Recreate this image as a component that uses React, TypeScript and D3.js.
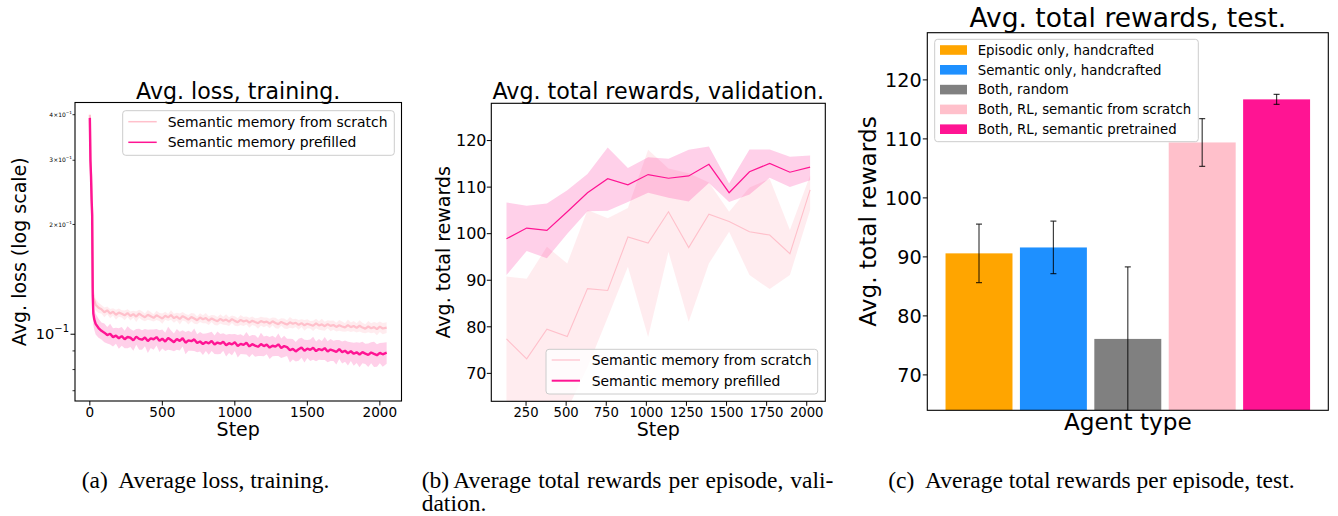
import React from 'react';
import * as d3 from 'd3';

const SANS = '"DejaVu Sans", Verdana, sans-serif';
const SERIF = '"Liberation Serif", "Times New Roman", serif';

const PINK = '#FFC0CB';
const DEEPPINK = '#FF1493';

// ---------- (a) training loss ----------
const lossSteps = [
  0, 4, 8, 12, 16, 20, 24, 30,
  40, 60, 80, 100, 120, 140, 160, 180, 200, 220,
  240, 260, 280, 300, 320, 340, 360, 380, 400, 420,
  440, 460, 480, 500, 520, 540, 560, 580, 600, 620,
  640, 660, 680, 700, 720, 740, 760, 780, 800, 820,
  840, 860, 880, 900, 920, 940, 960, 980, 1000, 1020,
  1040, 1060, 1080, 1100, 1120, 1140, 1160, 1180, 1200, 1220,
  1240, 1260, 1280, 1300, 1320, 1340, 1360, 1380, 1400, 1420,
  1440, 1460, 1480, 1500, 1520, 1540, 1560, 1580, 1600, 1620,
  1640, 1660, 1680, 1700, 1720, 1740, 1760, 1780, 1800, 1820,
  1840, 1860, 1880, 1900, 1920, 1940, 1960, 1980, 2000, 2020,
  2047,
];

const lossScratch = [
  0.400, 0.305, 0.275, 0.240, 0.215, 0.135, 0.126, 0.124,
  0.1205, 0.1182, 0.1171, 0.1149, 0.1163, 0.1140, 0.1152, 0.1131, 0.1146, 0.1138,
  0.1127, 0.1143, 0.1122, 0.1135, 0.1118, 0.1139, 0.1125, 0.1113, 0.1131, 0.1120,
  0.1109, 0.1127, 0.1116, 0.1104, 0.1124, 0.1112, 0.1129, 0.1107, 0.1118, 0.1101,
  0.1121, 0.1110, 0.1097, 0.1115, 0.1104, 0.1092, 0.1111, 0.1099, 0.1108, 0.1090,
  0.1105, 0.1094, 0.1086, 0.1102, 0.1089, 0.1097, 0.1083, 0.1100, 0.1088, 0.1079,
  0.1095, 0.1084, 0.1091, 0.1076, 0.1089, 0.1080, 0.1072, 0.1087, 0.1078, 0.1083,
  0.1070, 0.1085, 0.1074, 0.1066, 0.1081, 0.1071, 0.1063, 0.1078, 0.1068, 0.1075,
  0.1061, 0.1073, 0.1058, 0.1069, 0.1062, 0.1055, 0.1071, 0.1057, 0.1064, 0.1052,
  0.1066, 0.1054, 0.1060, 0.1047, 0.1058, 0.1050, 0.1044, 0.1059, 0.1046, 0.1053,
  0.1041, 0.1055, 0.1043, 0.1036, 0.1050, 0.1039, 0.1046, 0.1033, 0.1049, 0.1037,
  0.1043,
];

const lossScratchStd = [
  0.012, 0.025, 0.020, 0.018, 0.015, 0.010, 0.006, 0.005,
  0.0045, 0.0038, 0.0031, 0.0035, 0.0029, 0.0033, 0.0027, 0.0036, 0.0030, 0.0026,
  0.0034, 0.0028, 0.0032, 0.0025, 0.0037, 0.0029, 0.0031, 0.0027, 0.0035, 0.0030,
  0.0026, 0.0033, 0.0028, 0.0036, 0.0029, 0.0025, 0.0034, 0.0031, 0.0027, 0.0038,
  0.0030, 0.0026, 0.0033, 0.0029, 0.0035, 0.0027, 0.0031, 0.0028, 0.0036, 0.0030,
  0.0025, 0.0034, 0.0029, 0.0032, 0.0027, 0.0037, 0.0030, 0.0026, 0.0033, 0.0028,
  0.0035, 0.0031, 0.0027, 0.0034, 0.0029, 0.0026, 0.0036, 0.0030, 0.0033, 0.0028,
  0.0032, 0.0027, 0.0035, 0.0030, 0.0026, 0.0034, 0.0029, 0.0037, 0.0031, 0.0028,
  0.0033, 0.0027, 0.0036, 0.0030, 0.0025, 0.0034, 0.0032, 0.0028, 0.0038, 0.0030,
  0.0027, 0.0035, 0.0031, 0.0029, 0.0036, 0.0033, 0.0028, 0.0039, 0.0031, 0.0034,
  0.0030, 0.0037, 0.0033, 0.0029, 0.0038, 0.0032, 0.0035, 0.0040, 0.0034, 0.0037,
  0.0035,
];

const lossPrefilled = [
  0.392, 0.300, 0.272, 0.235, 0.212, 0.128, 0.114, 0.110,
  0.1068, 0.1040, 0.1022, 0.1010, 0.0995, 0.1003, 0.0982, 0.0991, 0.0975, 0.0988,
  0.0969, 0.0983, 0.0978, 0.0962, 0.0985, 0.0971, 0.0966, 0.0980, 0.0958, 0.0974,
  0.0969, 0.0982, 0.0960, 0.0972, 0.0955, 0.0977, 0.0964, 0.0951, 0.0970, 0.0959,
  0.0975, 0.0948, 0.0962, 0.0957, 0.0968, 0.0946, 0.0955, 0.0940, 0.0952, 0.0944,
  0.0958, 0.0937, 0.0949, 0.0942, 0.0954, 0.0933, 0.0945, 0.0938, 0.0950, 0.0929,
  0.0941, 0.0935, 0.0947, 0.0926, 0.0939, 0.0931, 0.0924, 0.0940, 0.0928, 0.0936,
  0.0919, 0.0930, 0.0925, 0.0938, 0.0917, 0.0928, 0.0922, 0.0904, 0.0912, 0.0897,
  0.0909, 0.0920, 0.0901, 0.0913, 0.0906, 0.0918, 0.0899, 0.0911, 0.0904, 0.0916,
  0.0897, 0.0908, 0.0902, 0.0895, 0.0910, 0.0893, 0.0901, 0.0887, 0.0898, 0.0884,
  0.0892, 0.0880, 0.0893, 0.0885, 0.0878, 0.0891, 0.0883, 0.0876, 0.0889, 0.0881,
  0.0890,
];

const lossPrefilledStd = [
  0.010, 0.022, 0.018, 0.016, 0.014, 0.010, 0.008, 0.007,
  0.0070, 0.0062, 0.0055, 0.0060, 0.0052, 0.0066, 0.0057, 0.0050, 0.0063, 0.0058,
  0.0054, 0.0068, 0.0056, 0.0061, 0.0049, 0.0064, 0.0059, 0.0053, 0.0070, 0.0057,
  0.0062, 0.0051, 0.0066, 0.0058, 0.0055, 0.0071, 0.0060, 0.0053, 0.0064, 0.0057,
  0.0050, 0.0067, 0.0061, 0.0056, 0.0069, 0.0054, 0.0059, 0.0063, 0.0052, 0.0065,
  0.0058, 0.0055, 0.0068, 0.0060, 0.0053, 0.0064, 0.0057, 0.0062, 0.0051, 0.0066,
  0.0059, 0.0054, 0.0067, 0.0061, 0.0056, 0.0063, 0.0052, 0.0069, 0.0058, 0.0055,
  0.0064, 0.0060, 0.0053, 0.0066, 0.0057, 0.0062, 0.0050, 0.0068, 0.0059, 0.0055,
  0.0063, 0.0058, 0.0065, 0.0052, 0.0061, 0.0067, 0.0056, 0.0060, 0.0054, 0.0066,
  0.0059, 0.0063, 0.0057, 0.0069, 0.0055, 0.0062, 0.0060, 0.0066, 0.0053, 0.0064,
  0.0058, 0.0068, 0.0061, 0.0056, 0.0065, 0.0059, 0.0070, 0.0062, 0.0057, 0.0066,
  0.0060,
];

const lossXTicks = [0, 500, 1000, 1500, 2000];
const lossYDomain = [0.0656, 0.432];
const lossYMinorLabeled = [0.2, 0.3, 0.4];
const lossYMinorLabels = ['2', '3', '4'];
const lossYMinor = [0.07, 0.08, 0.09];

// ---------- (b) validation rewards ----------
const valSteps = [128, 254, 380, 507, 633, 759, 885, 1011, 1138, 1264, 1390, 1516, 1643, 1769, 1895, 2021];
const valScratchMean = [77.4, 73.1, 79.5, 77.9, 88.2, 87.8, 99.3, 98.0, 104.7, 97.0, 104.2, 102.6, 100.4, 99.7, 95.7, 109.4];
const valScratchHigh = [90.8, 90.3, 97.2, 93.6, 105.1, 103.3, 105.5, 118.0, 114.0, 113.0, 111.0, 104.7, 109.9, 111.8, 100.8, 112.5];
const valScratchLow = [64.0, 55.8, 61.8, 62.2, 71.3, 82.0, 92.9, 77.8, 96.1, 81.1, 93.6, 100.4, 91.1, 88.1, 91.1, 105.1];
const valPrefMean = [98.9, 101.2, 100.7, 104.7, 108.8, 111.8, 110.5, 112.7, 111.9, 112.4, 114.9, 108.8, 113.3, 115.1, 113.2, 114.3];
const valPrefHigh = [106.7, 106.0, 106.5, 109.3, 112.8, 118.5, 114.1, 116.4, 116.1, 118.0, 118.7, 110.8, 118.1, 118.1, 116.5, 116.8];
const valPrefLow = [91.1, 96.3, 94.7, 100.0, 104.8, 104.9, 106.8, 108.8, 107.7, 106.9, 110.9, 106.8, 108.4, 112.0, 110.0, 111.5];
const valXTicks = [250, 500, 750, 1000, 1250, 1500, 1750, 2000];

// ---------- (c) test rewards ----------
const agentTypes = [
  'Episodic only, handcrafted',
  'Semantic only, handcrafted',
  'Both, random',
  'Both, RL, semantic from scratch',
  'Both, RL, semantic pretrained',
];
const agentMeans = [90.6, 91.6, 76.1, 109.4, 116.7];
const agentErrs = [4.95, 4.45, 12.2, 4.05, 0.85];
const agentColors = ['#FFA500', '#1E90FF', '#808080', '#FFC0CB', '#FF1493'];

const rewardYDomain = [64, 128];
const rewardYTicks = [70, 80, 90, 100, 110, 120];

function padded(ext: number[], frac = 0.05) {
  const span = ext[1] - ext[0];
  return [ext[0] - span * frac, ext[1] + span * frac];
}

function Frame({ box }: any) {
  return (
    <rect x={box.l} y={box.t} width={box.r - box.l} height={box.b - box.t}
      fill="none" stroke="#000" strokeWidth={1.1} />
  );
}

function LegendBox({ x, y, w, h }: any) {
  return (
    <rect x={x} y={y} width={w} height={h} rx={3} ry={3}
      fill="#fff" fillOpacity={0.8} stroke="#cccccc" strokeWidth={1} />
  );
}

function LossPanel() {
  const box = { l: 75, r: 401.5, t: 102.5, b: 401 };
  const x = d3.scaleLinear().domain(padded(d3.extent(lossSteps) as number[])).range([box.l, box.r]);
  const y = d3.scaleLog().domain(lossYDomain).range([box.b, box.t]);

  const mk = (vals: number[], std: number[]) => lossSteps.map((s, i) => ({ s, v: vals[i], e: std[i] })).filter(d => d.v != null && d.e != null);
  const scr = mk(lossScratch, lossScratchStd);
  const pre = mk(lossPrefilled, lossPrefilledStd);

  const line = d3.line<any>().x(d => x(d.s)).y(d => y(d.v));
  const area = d3.area<any>().x(d => x(d.s)).y0(d => y(Math.max(d.v - d.e, 1e-3))).y1(d => y(d.v + d.e));

  return (
    <g>
      <defs>
        <clipPath id="clipA"><rect x={box.l} y={box.t} width={box.r - box.l} height={box.b - box.t} /></clipPath>
      </defs>
      <text x={(box.l + box.r) / 2} y={98.5} textAnchor="middle" fontFamily={SANS} fontSize={22.1}>Avg. loss, training.</text>
      <g clipPath="url(#clipA)">
        <path d={area(scr) || ''} fill={PINK} fillOpacity={0.3} />
        <path d={line(scr) || ''} fill="none" stroke={PINK} strokeWidth={2.2} strokeLinejoin="bevel" />
        <path d={area(pre) || ''} fill={DEEPPINK} fillOpacity={0.2} />
        <path d={line(pre) || ''} fill="none" stroke={DEEPPINK} strokeWidth={2.4} strokeLinejoin="bevel" />
      </g>
      <Frame box={box} />
      {lossXTicks.map(t => (
        <g key={t}>
          <line x1={x(t)} x2={x(t)} y1={box.b} y2={box.b + 4.5} stroke="#000" strokeWidth={1} />
          <text x={x(t)} y={416.7} textAnchor="middle" fontFamily={SANS} fontSize={13.6}>{t}</text>
        </g>
      ))}
      <text x={(box.l + box.r) / 2} y={435.7} textAnchor="middle" fontFamily={SANS} fontSize={19}>Step</text>
      {/* major y tick */}
      <line x1={box.l - 4.5} x2={box.l} y1={y(0.1)} y2={y(0.1)} stroke="#000" strokeWidth={1} />
      <text x={69} y={y(0.1)} dy="0.36em" textAnchor="end" fontFamily={SANS} fontSize={14.5}>
        10<tspan fontSize={10} dy="-0.75em">−1</tspan>
      </text>
      {lossYMinor.concat(lossYMinorLabeled).map(t => (
        <line key={t} x1={box.l - 2.5} x2={box.l} y1={y(t)} y2={y(t)} stroke="#000" strokeWidth={0.8} />
      ))}
      {lossYMinorLabeled.map((t, i) => (
        <text key={t} x={72} y={y(t)} dy="0.36em" textAnchor="end" fontFamily={SANS} fontSize={6}>
          {lossYMinorLabels[i]}×10<tspan fontSize={4.2} dy="-0.7em">−1</tspan>
        </text>
      ))}
      <text transform={`translate(25.5,${(box.t + box.b) / 2}) rotate(-90)`} textAnchor="middle" fontFamily={SANS} fontSize={19}>Avg. loss (log scale)</text>
      {/* legend */}
      <LegendBox x={122.7} y={110.7} w={271.6} h={44.6} />
      <line x1={128.3} x2={156.7} y1={121.7} y2={121.7} stroke={PINK} strokeWidth={1.5} />
      <text x={167.7} y={121.7} dy="0.36em" fontFamily={SANS} fontSize={13.9}>Semantic memory from scratch</text>
      <line x1={128.3} x2={156.7} y1={142.3} y2={142.3} stroke={DEEPPINK} strokeWidth={1.5} />
      <text x={167.7} y={142.3} dy="0.36em" fontFamily={SANS} fontSize={13.9}>Semantic memory prefilled</text>
    </g>
  );
}

function ValPanel() {
  const box = { l: 491.3, r: 825.3, t: 103.3, b: 401.3 };
  const x = d3.scaleLinear().domain(padded(d3.extent(valSteps) as number[])).range([box.l, box.r]);
  const y = d3.scaleLinear().domain(rewardYDomain).range([box.b, box.t]);

  const scr = valSteps.map((s, i) => ({ s, m: valScratchMean[i], lo: valScratchLow[i], hi: valScratchHigh[i] }));
  const pre = valSteps.map((s, i) => ({ s, m: valPrefMean[i], lo: valPrefLow[i], hi: valPrefHigh[i] }));
  const line = d3.line<any>().x(d => x(d.s)).y(d => y(d.m));
  const area = d3.area<any>().x(d => x(d.s)).y0(d => y(d.lo)).y1(d => y(d.hi));

  return (
    <g>
      <defs>
        <clipPath id="clipB"><rect x={box.l} y={box.t} width={box.r - box.l} height={box.b - box.t} /></clipPath>
      </defs>
      <text x={(box.l + box.r) / 2} y={98.5} textAnchor="middle" fontFamily={SANS} fontSize={22.2}>Avg. total rewards, validation.</text>
      <g clipPath="url(#clipB)">
        <path d={area(scr) || ''} fill={PINK} fillOpacity={0.3} />
        <path d={line(scr) || ''} fill="none" stroke={PINK} strokeWidth={1.1} />
        <path d={area(pre) || ''} fill={DEEPPINK} fillOpacity={0.2} />
        <path d={line(pre) || ''} fill="none" stroke={DEEPPINK} strokeWidth={1.2} />
      </g>
      <Frame box={box} />
      {valXTicks.map(t => (
        <g key={t}>
          <line x1={x(t)} x2={x(t)} y1={box.b} y2={box.b + 4.5} stroke="#000" strokeWidth={1} />
          <text x={x(t)} y={416.7} textAnchor="middle" fontFamily={SANS} fontSize={13.2}>{t}</text>
        </g>
      ))}
      <text x={(box.l + box.r) / 2} y={435.7} textAnchor="middle" fontFamily={SANS} fontSize={19}>Step</text>
      {rewardYTicks.map(t => (
        <g key={t}>
          <line x1={box.l - 4.5} x2={box.l} y1={y(t)} y2={y(t)} stroke="#000" strokeWidth={1} />
          <text x={486.5} y={y(t)} dy="0.36em" textAnchor="end" fontFamily={SANS} fontSize={16}>{t}</text>
        </g>
      ))}
      <text transform={`translate(450,${(box.t + box.b) / 2}) rotate(-90)`} textAnchor="middle" fontFamily={SANS} fontSize={19}>Avg. total rewards</text>
      <LegendBox x={546} y={349.3} w={271.7} h={44.7} />
      <line x1={551.7} x2={580} y1={360} y2={360} stroke={PINK} strokeWidth={1.2} />
      <text x={591.7} y={360} dy="0.36em" fontFamily={SANS} fontSize={13.9}>Semantic memory from scratch</text>
      <line x1={551.7} x2={580} y1={380.7} y2={380.7} stroke={DEEPPINK} strokeWidth={2} />
      <text x={591.7} y={380.7} dy="0.36em" fontFamily={SANS} fontSize={13.9}>Semantic memory prefilled</text>
    </g>
  );
}

function TestPanel() {
  const box = { l: 927.3, r: 1328.3, t: 32.7, b: 410.3 };
  const barWidth = 0.9;
  const idx = agentTypes.map((_, i) => i);
  const x = d3.scaleLinear().domain(padded([-barWidth / 2, agentTypes.length - 1 + barWidth / 2])).range([box.l, box.r]);
  const y = d3.scaleLinear().domain(rewardYDomain).range([box.b, box.t]);
  const legendY = [50, 69.8, 89.6, 109.4, 129.2];

  return (
    <g>
      <defs>
        <clipPath id="clipC"><rect x={box.l} y={box.t} width={box.r - box.l} height={box.b - box.t} /></clipPath>
      </defs>
      <text x={(box.l + box.r) / 2} y={26.7} textAnchor="middle" fontFamily={SANS} fontSize={26.5}>Avg. total rewards, test.</text>
      <g clipPath="url(#clipC)">
        {idx.map(i => (
          <rect key={i} x={x(i - barWidth / 2)} width={x(i + barWidth / 2) - x(i - barWidth / 2)}
            y={y(agentMeans[i])} height={y(rewardYDomain[0]) - y(agentMeans[i])} fill={agentColors[i]} />
        ))}
        {idx.map(i => {
          const cx = x(i);
          const y1 = y(agentMeans[i] + agentErrs[i]);
          const y2 = y(agentMeans[i] - agentErrs[i]);
          return (
            <g key={i} stroke="#000" strokeOpacity={0.75} strokeWidth={1.2}>
              <line x1={cx} x2={cx} y1={y1} y2={y2} />
              <line x1={cx - 3} x2={cx + 3} y1={y1} y2={y1} />
              <line x1={cx - 3} x2={cx + 3} y1={y2} y2={y2} />
            </g>
          );
        })}
      </g>
      <Frame box={box} />
      {rewardYTicks.map(t => (
        <g key={t}>
          <line x1={box.l - 4.5} x2={box.l} y1={y(t)} y2={y(t)} stroke="#000" strokeWidth={1} />
          <text x={921.7} y={y(t)} dy="0.36em" textAnchor="end" fontFamily={SANS} fontSize={19.2}>{t}</text>
        </g>
      ))}
      <text x={(box.l + box.r) / 2} y={430} textAnchor="middle" fontFamily={SANS} fontSize={23.2}>Agent type</text>
      <text transform={`translate(876,${(box.t + box.b) / 2}) rotate(-90)`} textAnchor="middle" fontFamily={SANS} fontSize={23.2}>Avg. total rewards</text>
      <LegendBox x={934.7} y={39.3} w={263.6} h={102.4} />
      {agentTypes.map((a, i) => (
        <g key={a}>
          <rect x={940} y={legendY[i] - 4.8} width={27} height={9.6} fill={agentColors[i]} />
          <text x={977.7} y={legendY[i]} dy="0.36em" fontFamily={SANS} fontSize={13.3}>{a}</text>
        </g>
      ))}
    </g>
  );
}

function Captions() {
  return (
    <g fontFamily={SERIF} fontSize={23.5} fill="#000">
      <text x={81.7} y={488.3}>(a)</text>
      <text x={118.3} y={488.3}>Average loss, training.</text>
      <text x={421.7} y={488.3}>(b)</text>
      <text x={453.3} y={488.3} wordSpacing={1.2}>Average total rewards per episode, vali-</text>
      <text x={421.7} y={511}>dation.</text>
      <text x={888.3} y={488.3}>(c)</text>
      <text x={925} y={488.3}>Average total rewards per episode, test.</text>
    </g>
  );
}

export default function App() {
  return (
    <svg width={1338} height={516} viewBox="0 0 1338 516"
      style={{ position: 'absolute', left: 0, top: 0, display: 'block', background: '#fff' }}>
      <rect x={0} y={0} width={1338} height={516} fill="#fff" />
      <LossPanel />
      <ValPanel />
      <TestPanel />
      <Captions />
    </svg>
  );
}
